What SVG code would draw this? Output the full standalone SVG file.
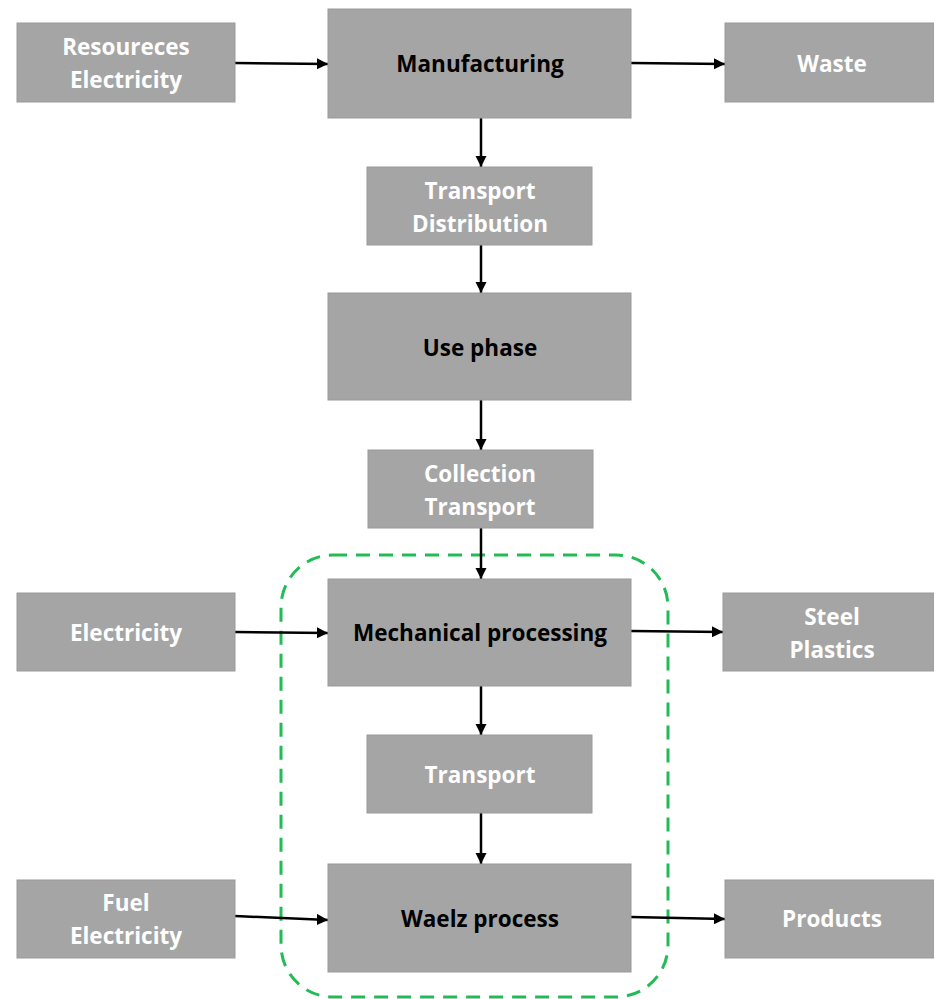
<svg xmlns="http://www.w3.org/2000/svg" width="934" height="999" viewBox="0 0 934 999">
<defs>
<marker id="ah" viewBox="0 0 10 10" refX="10" refY="5" markerWidth="4.5" markerHeight="4.5" orient="auto" markerUnits="strokeWidth">
<path d="M0,0 L10,5 L0,10 z" fill="#000"/>
</marker>
<style>
.box{fill:#a5a5a5;stroke:#9a9a9a;stroke-width:1}
.w{fill:#ffffff;font-family:"Open Sans",Lato,sans-serif;font-weight:bold;font-size:22.5px;text-anchor:middle}
.b{fill:#000000;font-family:"Open Sans",Lato,sans-serif;font-weight:bold;font-size:22.5px;text-anchor:middle}
.c{stroke:#000;stroke-width:2.5;fill:none;marker-end:url(#ah)}
</style>
</defs>
<rect width="934" height="999" fill="#ffffff"/>
<rect x="281" y="555" width="387" height="442" rx="52" ry="52" fill="none" stroke="#22bb55" stroke-width="3" stroke-dasharray="14,9"/>
<g id="connectors">
<path class="c" d="M235,63 L328,64"/>
<path class="c" d="M631,63 L725,64"/>
<path class="c" d="M481,118 L481,167"/>
<path class="c" d="M481,245 L481,293"/>
<path class="c" d="M481,400 L481,450"/>
<path class="c" d="M481,528 L481,579"/>
<path class="c" d="M481,686 L481,735"/>
<path class="c" d="M481,813 L481,864"/>
<path class="c" d="M235,632 L328,633"/>
<path class="c" d="M631,631 L723,632"/>
<path class="c" d="M235,916 L328,920"/>
<path class="c" d="M631,917 L725,919"/>
</g>
<g id="resources"><rect class="box" x="17" y="23" width="218" height="79"/><text class="w" x="126" y="55">Resoureces</text><text class="w" x="126" y="88">Electricity</text></g>
<g id="manufacturing"><rect class="box" x="328" y="9" width="303" height="109"/><text class="b" x="480" y="72">Manufacturing</text></g>
<g id="waste"><rect class="box" x="725" y="23" width="209" height="79"/><text class="w" x="832" y="72">Waste</text></g>
<g id="transport-distribution"><rect class="box" x="367" y="167" width="225" height="78"/><text class="w" x="480" y="199">Transport</text><text class="w" x="480" y="232">Distribution</text></g>
<g id="use-phase"><rect class="box" x="328" y="293" width="303" height="107"/><text class="b" x="480" y="356">Use phase</text></g>
<g id="collection-transport"><rect class="box" x="368" y="450" width="225" height="78"/><text class="w" x="480" y="482">Collection</text><text class="w" x="480" y="515">Transport</text></g>
<g id="electricity"><rect class="box" x="17" y="593" width="218" height="78"/><text class="w" x="126" y="641">Electricity</text></g>
<g id="mechanical-processing"><rect class="box" x="328" y="579" width="303" height="107"/><text class="b" x="480" y="641">Mechanical processing</text></g>
<g id="steel-plastics"><rect class="box" x="723" y="593" width="211" height="78"/><text class="w" x="832" y="625">Steel</text><text class="w" x="832" y="658">Plastics</text></g>
<g id="transport"><rect class="box" x="367" y="735" width="225" height="78"/><text class="w" x="480" y="783">Transport</text></g>
<g id="fuel-electricity"><rect class="box" x="17" y="880" width="218" height="78"/><text class="w" x="126" y="911">Fuel</text><text class="w" x="126" y="944">Electricity</text></g>
<g id="waelz-process"><rect class="box" x="328" y="864" width="303" height="108"/><text class="b" x="480" y="927">Waelz process</text></g>
<g id="products"><rect class="box" x="725" y="880" width="209" height="78"/><text class="w" x="832" y="927">Products</text></g>
</svg>
